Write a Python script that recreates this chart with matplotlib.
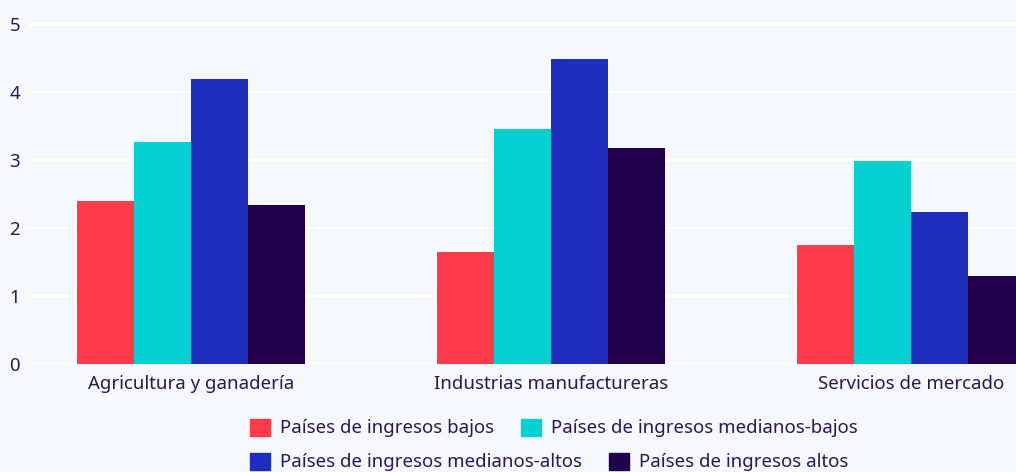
import matplotlib.pyplot as plt
from matplotlib.patches import Patch
import numpy as np

plt.rcParams['font.family'] = ['Noto Sans', 'DejaVu Sans']

categorias = ['Agricultura y ganadería', 'Industrias manufactureras', 'Servicios de mercado']
series = ['Países de ingresos bajos', 'Países de ingresos medianos-bajos',
          'Países de ingresos medianos-altos', 'Países de ingresos altos']
bajos = [2.40, 1.65, 1.75]
medianos_bajos = [3.26, 3.46, 2.99]
medianos_altos = [4.19, 4.49, 2.24]
altos = [2.34, 3.18, 1.29]
valores = [bajos, medianos_bajos, medianos_altos, altos]
colores = ['#ff3b4b', '#04d2d2', '#1e2dbe', '#23004c']

fondo = '#f5f9fd'
texto = '#2a1659'
fs = 13.4

fig = plt.figure(figsize=(10.16, 4.72), dpi=100, facecolor=fondo)
ax = fig.add_axes([30 / 1016, 108 / 472, 1 - 30 / 1016, 364 / 472])
ax.set_facecolor(fondo)

x = np.arange(len(categorias))
ancho = 0.1583
for i, (vals, col) in enumerate(zip(valores, colores)):
    ax.bar(x + (i - 1.5) * ancho, vals, ancho, color=col, label=series[i], zorder=3)

ax.set_xlim(-0.4472, 2.2917)
ax.set_ylim(0, 5.35)
ax.set_yticks([0, 1, 2, 3, 4, 5])
ax.set_xticks(x)
ax.set_xticklabels(categorias)
ax.grid(axis='y', color='white', linewidth=1.5, zorder=1)
ax.axhline(0, color='white', linewidth=2, zorder=2)
for s in ax.spines.values():
    s.set_visible(False)
ax.tick_params(axis='both', length=0, labelsize=fs, colors=texto)
ax.tick_params(axis='y', pad=11)
ax.tick_params(axis='x', pad=8)
for lbl in ax.get_yticklabels():
    lbl.set_horizontalalignment('center')

# leyenda en dos filas (como en el original, columnas no alineadas)
h = [Patch(color=c) for c in colores]
kw = dict(frameon=False, ncol=2, fontsize=fs, handlelength=1.08, handleheight=1.03,
          handletextpad=0.54, columnspacing=1.45, borderpad=0, borderaxespad=0,
          labelcolor=texto, loc='center left')
fig.legend(h[:2], series[:2], bbox_to_anchor=(250 / 1016, 1 - 428 / 472), **kw)
fig.legend(h[2:], series[2:], bbox_to_anchor=(250 / 1016, 1 - 462 / 472), **kw)

plt.savefig('out.png', dpi=100, facecolor=fondo)
